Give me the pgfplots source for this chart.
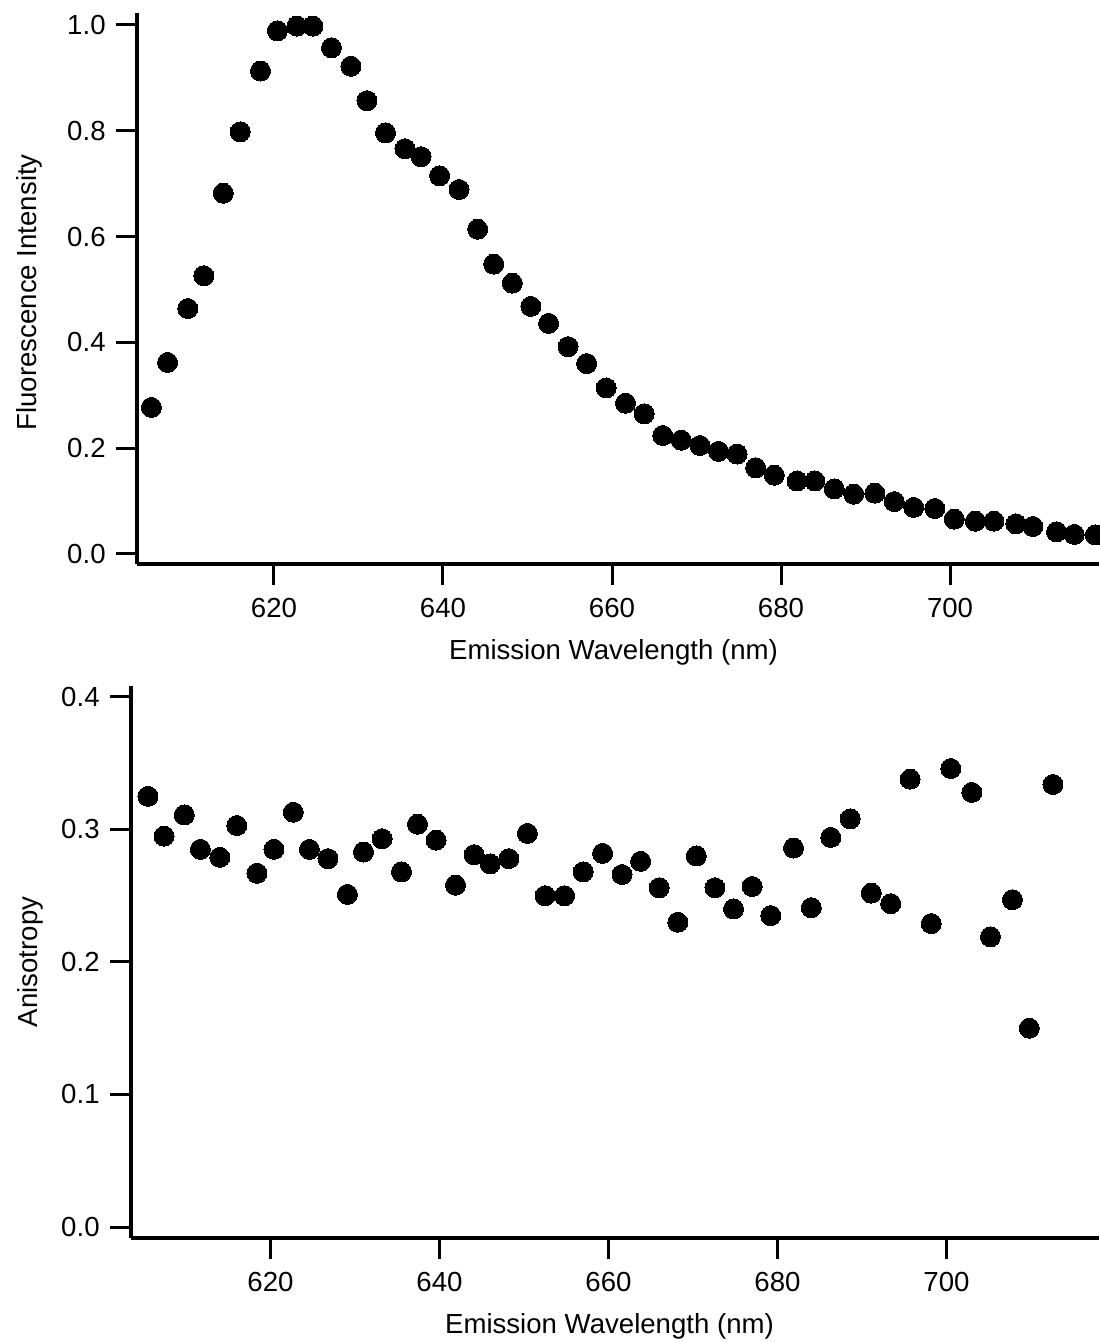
\documentclass[border=0pt]{standalone}
\usepackage{pgfplots}
\pgfplotsset{compat=1.18}
\usepackage{fontspec}
\setmainfont{Liberation Sans}

% Emission spectrum (normalised) and anisotropy versus wavelength
\pgfplotstableread{
wl     fl
605.5  0.277
607.4  0.362
609.8  0.464
611.7  0.526
614.0  0.682
616.0  0.798
618.4  0.913
620.4  0.989
622.7  0.998
624.6  0.998
626.8  0.957
629.1  0.922
631.0  0.857
633.2  0.796
635.5  0.766
637.4  0.751
639.6  0.715
641.9  0.689
644.1  0.614
646.0  0.548
648.2  0.512
650.4  0.468
652.5  0.436
654.8  0.392
657.0  0.360
659.3  0.314
661.6  0.285
663.8  0.265
666.0  0.224
668.2  0.215
670.4  0.205
672.6  0.194
674.8  0.189
677.0  0.163
679.2  0.149
681.9  0.138
684.0  0.138
686.3  0.123
688.6  0.113
691.1  0.115
693.4  0.099
695.7  0.088
698.2  0.086
700.5  0.066
703.0  0.062
705.2  0.062
707.8  0.057
709.8  0.052
712.6  0.042
714.7  0.037
717.2  0.036
}\fluor

\pgfplotstableread{
wl     r
605.5  0.325
607.4  0.295
609.8  0.311
611.7  0.285
614.0  0.279
616.0  0.303
618.4  0.267
620.4  0.285
622.7  0.313
624.6  0.285
626.8  0.278
629.1  0.251
631.0  0.283
633.2  0.293
635.5  0.268
637.4  0.304
639.6  0.292
641.9  0.258
644.1  0.281
646.0  0.274
648.2  0.278
650.4  0.297
652.5  0.250
654.8  0.250
657.0  0.268
659.3  0.282
661.6  0.266
663.8  0.276
666.0  0.256
668.2  0.230
670.4  0.280
672.6  0.256
674.8  0.240
677.0  0.257
679.2  0.235
681.9  0.286
684.0  0.241
686.3  0.294
688.6  0.308
691.1  0.252
693.4  0.244
695.7  0.338
698.2  0.229
700.5  0.346
703.0  0.328
705.2  0.219
707.8  0.247
709.8  0.150
712.6  0.334
}\aniso

\pgfplotsset{
  igor/.style={
    scale only axis,
    anchor=south west,
    clip=false,
    axis x line=bottom,
    axis y line=left,
    axis line style={-, line width=1.6pt},
    tick align=outside,
    major tick length=10.5pt,
    every tick/.style={black, line width=1.5pt},
    font=\fontsize{13.8}{16}\selectfont,
    ticklabel style={font=\fontsize{13.8}{16}\selectfont, inner sep=0pt},
    xticklabel style={anchor=north, yshift=-6.5pt,
      /pgf/number format/assume math mode=true},
    yticklabel style={anchor=east, xshift=-5pt,
      /pgf/number format/.cd, fixed, fixed zerofill, precision=1,
      assume math mode=true},
    xtick={620,640,660,680,700},
    xlabel={Emission Wavelength (nm)},
    xlabel style={anchor=base},
    ylabel style={anchor=base, rotate=0},
  },
  dots/.style={only marks, mark=*, mark size=5pt, color=black,
    mark options={fill=black, draw=black, line width=0pt}},
}

\begin{document}
\begin{tikzpicture}
\begin{axis}[igor,
  at={(68.5pt,389pt)},
  width=481pt, height=275.5pt,
  xmin=603.79, xmax=717.63,
  ymin=-0.0189, ymax=1.0227,
  ytick={0,0.2,0.4,0.6,0.8,1.0},
  ylabel={Fluorescence Intensity},
  xlabel style={at={(axis description cs:0.4953,-0.1742)}},
  ylabel style={at={(axis description cs:-0.104,0.493)}},
]
\addplot[dots] table[x=wl, y=fl] {\fluor};
\end{axis}

\begin{axis}[igor,
  at={(65.5pt,52pt)},
  width=484pt, height=276pt,
  xmin=603.49, xmax=718.05,
  ymin=-0.0083, ymax=0.4083,
  ytick={0,0.1,0.2,0.3,0.4},
  ylabel={Anisotropy},
  xlabel style={at={(axis description cs:0.4943,-0.1739)}},
  ylabel style={at={(axis description cs:-0.0971,0.5)}},
]
\addplot[dots] table[x=wl, y=r] {\aniso};
\end{axis}

\pgfresetboundingbox
\path[use as bounding box] (0,0) rectangle (549.5pt,671pt);
\end{tikzpicture}
\end{document}
